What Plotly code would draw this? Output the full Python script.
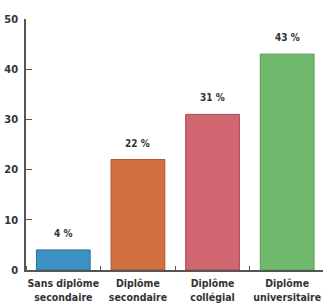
import plotly.graph_objects as go

categories = ["Sans diplôme<br>secondaire", "Diplôme<br>secondaire", "Diplôme<br>collégial", "Diplôme<br>universitaire"]
values = [4, 22, 31, 43]
value_labels = ["4 %", "22 %", "31 %", "43 %"]
colors = ["#3d92c4", "#d3703f", "#cf6670", "#71ba6d"]
outlines = ["#2f6f95", "#a8542e", "#a64b55", "#559a53"]
y_ticks = [0, 10, 20, 30, 40, 50]

x = list(range(len(categories)))
font_fam = "DejaVu Sans Condensed, Liberation Sans, Arial"

fig = go.Figure(go.Bar(
    x=x, y=values, width=0.72,
    marker=dict(color=colors, line=dict(color=outlines, width=1)),
    hoverinfo="skip",
))

for xi, v, t in zip(x, values, value_labels):
    fig.add_annotation(x=xi, y=v, text=f"<b>{t}</b>", showarrow=False,
                       yanchor="bottom", yshift=9,
                       font=dict(family=font_fam, size=10, color="#333333"))

fig.update_layout(
    width=323, height=306,
    margin=dict(l=26, r=0, t=19, b=36),
    plot_bgcolor="white", paper_bgcolor="white",
    showlegend=False,
    font=dict(family=font_fam, color="#333333"),
)
fig.update_xaxes(
    range=[-0.5, 3.48], tickvals=x, ticktext=[f"<b>{c}</b>" for c in categories],
    tickfont=dict(family=font_fam, size=10.5, color="#333333"),
    showline=True, linecolor="#555555", linewidth=1.5,
    ticks="", showgrid=False, zeroline=False, automargin=False,
    ticklabeloverflow="allow",
    minor=dict(tick0=0.5, dtick=1, ticks="inside", ticklen=4, tickcolor="#555555", tickwidth=1),
    ticklabelstandoff=3,
)
fig.update_yaxes(
    range=[0, 50], tickvals=y_ticks, ticktext=[f"<b>{v}</b>" for v in y_ticks],
    tickfont=dict(family=font_fam, size=11, color="#333333"),
    showline=True, linecolor="#555555", linewidth=1.5,
    ticks="inside", ticklen=6, tickcolor="#555555", tickwidth=1,
    showgrid=False, zeroline=False, ticklabelstandoff=4, automargin=False,
)

fig.write_html("out.html", config={"displayModeBar": False},
               post_script="document.body.style.margin='0';document.body.style.overflow='hidden';")
